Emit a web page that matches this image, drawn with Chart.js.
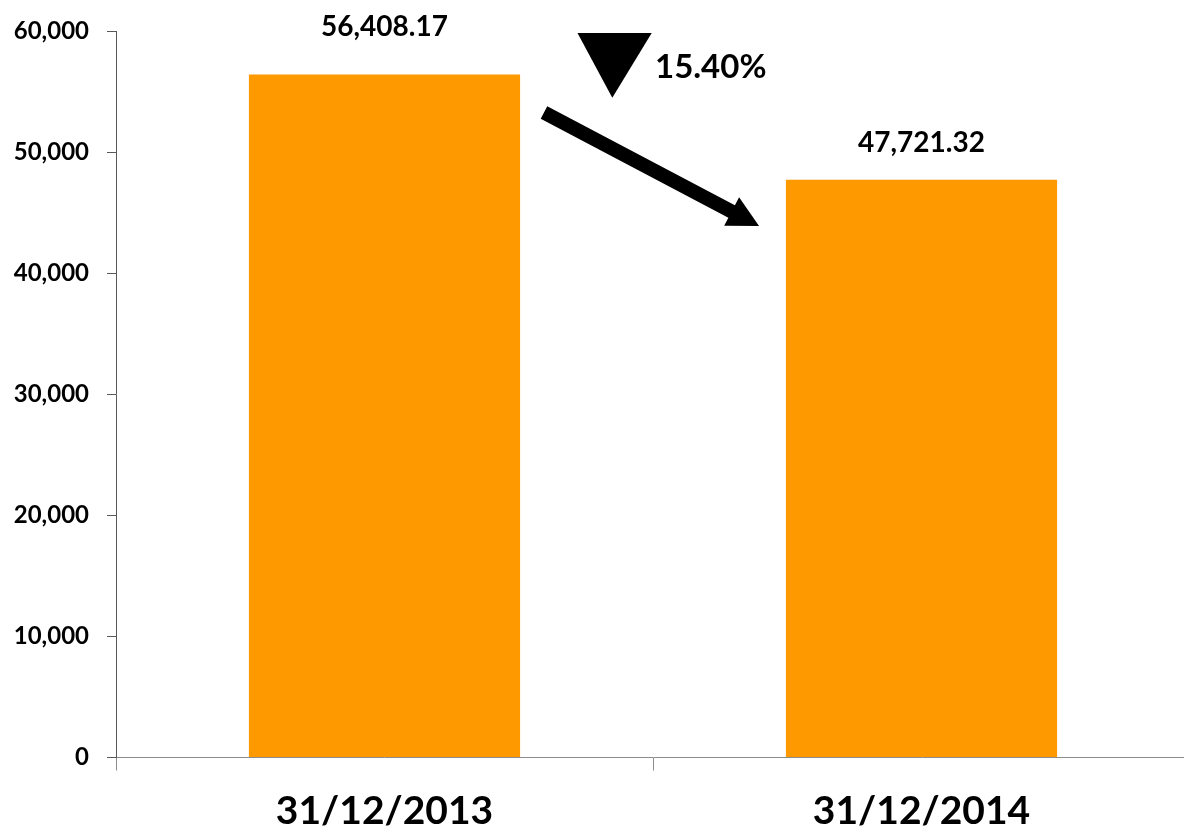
<!DOCTYPE html>
<html>
<head>
<meta charset="utf-8">
<script src="https://cdn.jsdelivr.net/npm/chart.js@4/dist/chart.umd.min.js"></script>
<style>
  html, body { margin: 0; padding: 0; background: #ffffff; overflow: hidden; }
  #wrap { position: relative; width: 1190px; height: 834px; }
</style>
</head>
<body>
<div id="wrap"><canvas id="c"></canvas></div>
<script>
// ---- data ----
const categories = ['31/12/2013', '31/12/2014'];
const values = [56408.17, 47721.32];
const yTickValues = [0, 10000, 20000, 30000, 40000, 50000, 60000];
const changeText = '15.40%';

// ---- styles / annotation anchors (category index, value) ----
const FONT = 'Lato, "Open Sans", sans-serif';
const WEIGHT = 'bold';
const BAR_COLOR = '#FF9900';
const labelGap = [38, 28];
const annot = {
  triFrom: [0.3594, 59837], triTo: [0.4976, 59837], triTip: [0.4242, 54493],
  textAt: [0.5037, 57028],
  arrowTail: [0.297, 53271], arrowTip: [0.6975, 43897]
};

const fmt = v => v.toLocaleString('en-US', {minimumFractionDigits: 2, maximumFractionDigits: 2});
const fmtTick = v => v.toLocaleString('en-US');

const overlay = {
  id: 'overlay',
  afterDatasetsDraw(chart) {
    const ctx = chart.ctx;
    const xs = chart.scales.x, ys = chart.scales.y;
    const P = a => [xs.getPixelForValue(a[0]), ys.getPixelForValue(a[1])];
    ctx.save();
    const meta = chart.getDatasetMeta(0);
    ctx.fillStyle = '#000';
    ctx.font = WEIGHT + ' 28px ' + FONT;
    ctx.textAlign = 'center';
    ctx.textBaseline = 'alphabetic';
    meta.data.forEach((bar, i) => {
      ctx.fillText(fmt(values[i]), bar.x, bar.y - labelGap[i]);
    });
    const a = P(annot.triFrom), b = P(annot.triTo), c = P(annot.triTip);
    ctx.beginPath();
    ctx.moveTo(a[0], a[1]); ctx.lineTo(b[0], b[1]); ctx.lineTo(c[0], c[1]);
    ctx.closePath();
    ctx.fill();
    const t = P(annot.textAt);
    ctx.font = WEIGHT + ' 33px ' + FONT;
    ctx.textAlign = 'left';
    ctx.textBaseline = 'middle';
    ctx.fillText(changeText, t[0], t[1]);
    const s = P(annot.arrowTail), e = P(annot.arrowTip);
    const dx = e[0] - s[0], dy = e[1] - s[1];
    const len = Math.hypot(dx, dy);
    const ux = dx / len, uy = dy / len, nx = -uy, ny = ux;
    const shaftW = 7, headL = 31, headW = 16;
    const bx = e[0] - ux * headL, by = e[1] - uy * headL;
    ctx.beginPath();
    ctx.moveTo(s[0] + nx * shaftW, s[1] + ny * shaftW);
    ctx.lineTo(bx + nx * shaftW, by + ny * shaftW);
    ctx.lineTo(bx + nx * headW, by + ny * headW);
    ctx.lineTo(e[0], e[1]);
    ctx.lineTo(bx - nx * headW, by - ny * headW);
    ctx.lineTo(bx - nx * shaftW, by - ny * shaftW);
    ctx.lineTo(s[0] - nx * shaftW, s[1] - ny * shaftW);
    ctx.closePath();
    ctx.fill();
    ctx.restore();
  }
};

new Chart(document.getElementById('c'), {
  type: 'bar',
  data: {
    labels: categories,
    datasets: [{
      data: values,
      backgroundColor: BAR_COLOR,
      borderWidth: 0,
      barPercentage: 0.505,
      categoryPercentage: 1.0
    }]
  },
  options: {
    responsive: true,
    maintainAspectRatio: false,
    animation: false,
    layout: { padding: { top: 31, right: 0, left: 0, bottom: 0 } },
    plugins: { legend: { display: false }, tooltip: { enabled: false } },
    scales: {
      x: {
        grid: { display: true, drawOnChartArea: false, drawTicks: true, tickLength: 13, color: '#8c8c8c', offset: true },
        border: { display: true, color: '#8c8c8c', width: 1 },
        ticks: { color: '#000', font: { family: FONT, size: 39, weight: WEIGHT }, padding: 18 },
        afterFit(scale) { scale.height = 76.5; scale.paddingLeft = 0; scale.paddingRight = 0; }
      },
      y: {
        min: 0, max: 60000,
        afterBuildTicks(scale) { scale.ticks = yTickValues.map(v => ({ value: v })); },
        grid: { display: true, drawOnChartArea: false, drawTicks: true, tickLength: 9, color: '#595959' },
        border: { display: true, color: '#595959', width: 1 },
        ticks: { color: '#000', font: { family: FONT, size: 24, weight: WEIGHT }, padding: 18, callback: v => fmtTick(v) },
        afterFit(scale) { scale.width = 116; scale.paddingTop = 0; scale.paddingBottom = 0; }
      }
    }
  },
  plugins: [overlay]
});
</script>
</body>
</html>
